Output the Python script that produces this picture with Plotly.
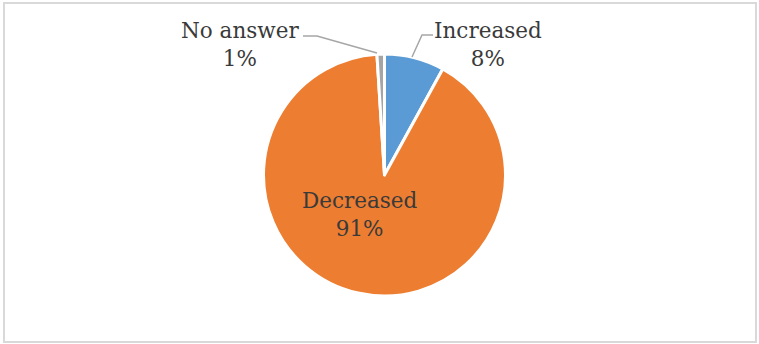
import plotly.graph_objects as go

W, H = 759, 344

# Data
categories = ["Increased", "Decreased", "No answer"]
values = [8, 91, 1]
percent_labels = ["8%", "91%", "1%"]
colors = ["#5B9BD5", "#ED7D31", "#A5A5A5"]

def px(x):
    return x / W

def py(y):
    return 1 - y / H

cx, cy, r = 384.5, 175, 121

fig = go.Figure(go.Pie(
    labels=categories,
    values=values,
    sort=False,
    direction="clockwise",
    rotation=0,
    textinfo="none",
    hoverinfo="label+percent",
    marker=dict(colors=colors, line=dict(color="white", width=3)),
    domain=dict(x=[px(cx - r), px(cx + r)], y=[py(cy + r), py(cy - r)]),
    showlegend=False,
))

font = dict(family="DejaVu Serif", size=21.5, color="#3A3A3A")

label_pos = {
    "Increased": (488, 44),
    "Decreased": (360, 214),
    "No answer": (240, 44),
}
annotations = []
for cat, pct in zip(categories, percent_labels):
    x, y = label_pos[cat]
    annotations.append(dict(
        x=px(x), y=py(y), xref="paper", yref="paper",
        text=f"{cat}<br>{pct}", showarrow=False, font=font,
        xanchor="center", yanchor="middle", align="center",
    ))

def path(points):
    s = "M " + " L ".join(f"{px(a)},{py(b)}" for a, b in points)
    return s

shapes = [
    dict(type="rect", xref="paper", yref="paper",
         x0=px(4), x1=px(756), y0=py(342), y1=py(3),
         line=dict(color="#D9D9D9", width=2), fillcolor="rgba(0,0,0,0)"),
    dict(type="path", xref="paper", yref="paper",
         path=path([(303, 36), (317, 36), (377, 53)]),
         line=dict(color="#A6A6A6", width=1.5)),
    dict(type="path", xref="paper", yref="paper",
         path=path([(433, 35), (422, 35), (412, 57)]),
         line=dict(color="#A6A6A6", width=1.5)),
]

fig.update_layout(
    width=W, height=H,
    margin=dict(l=0, r=0, t=0, b=0),
    paper_bgcolor="white",
    plot_bgcolor="white",
    annotations=annotations,
    shapes=shapes,
)

fig.write_html("out.html")
